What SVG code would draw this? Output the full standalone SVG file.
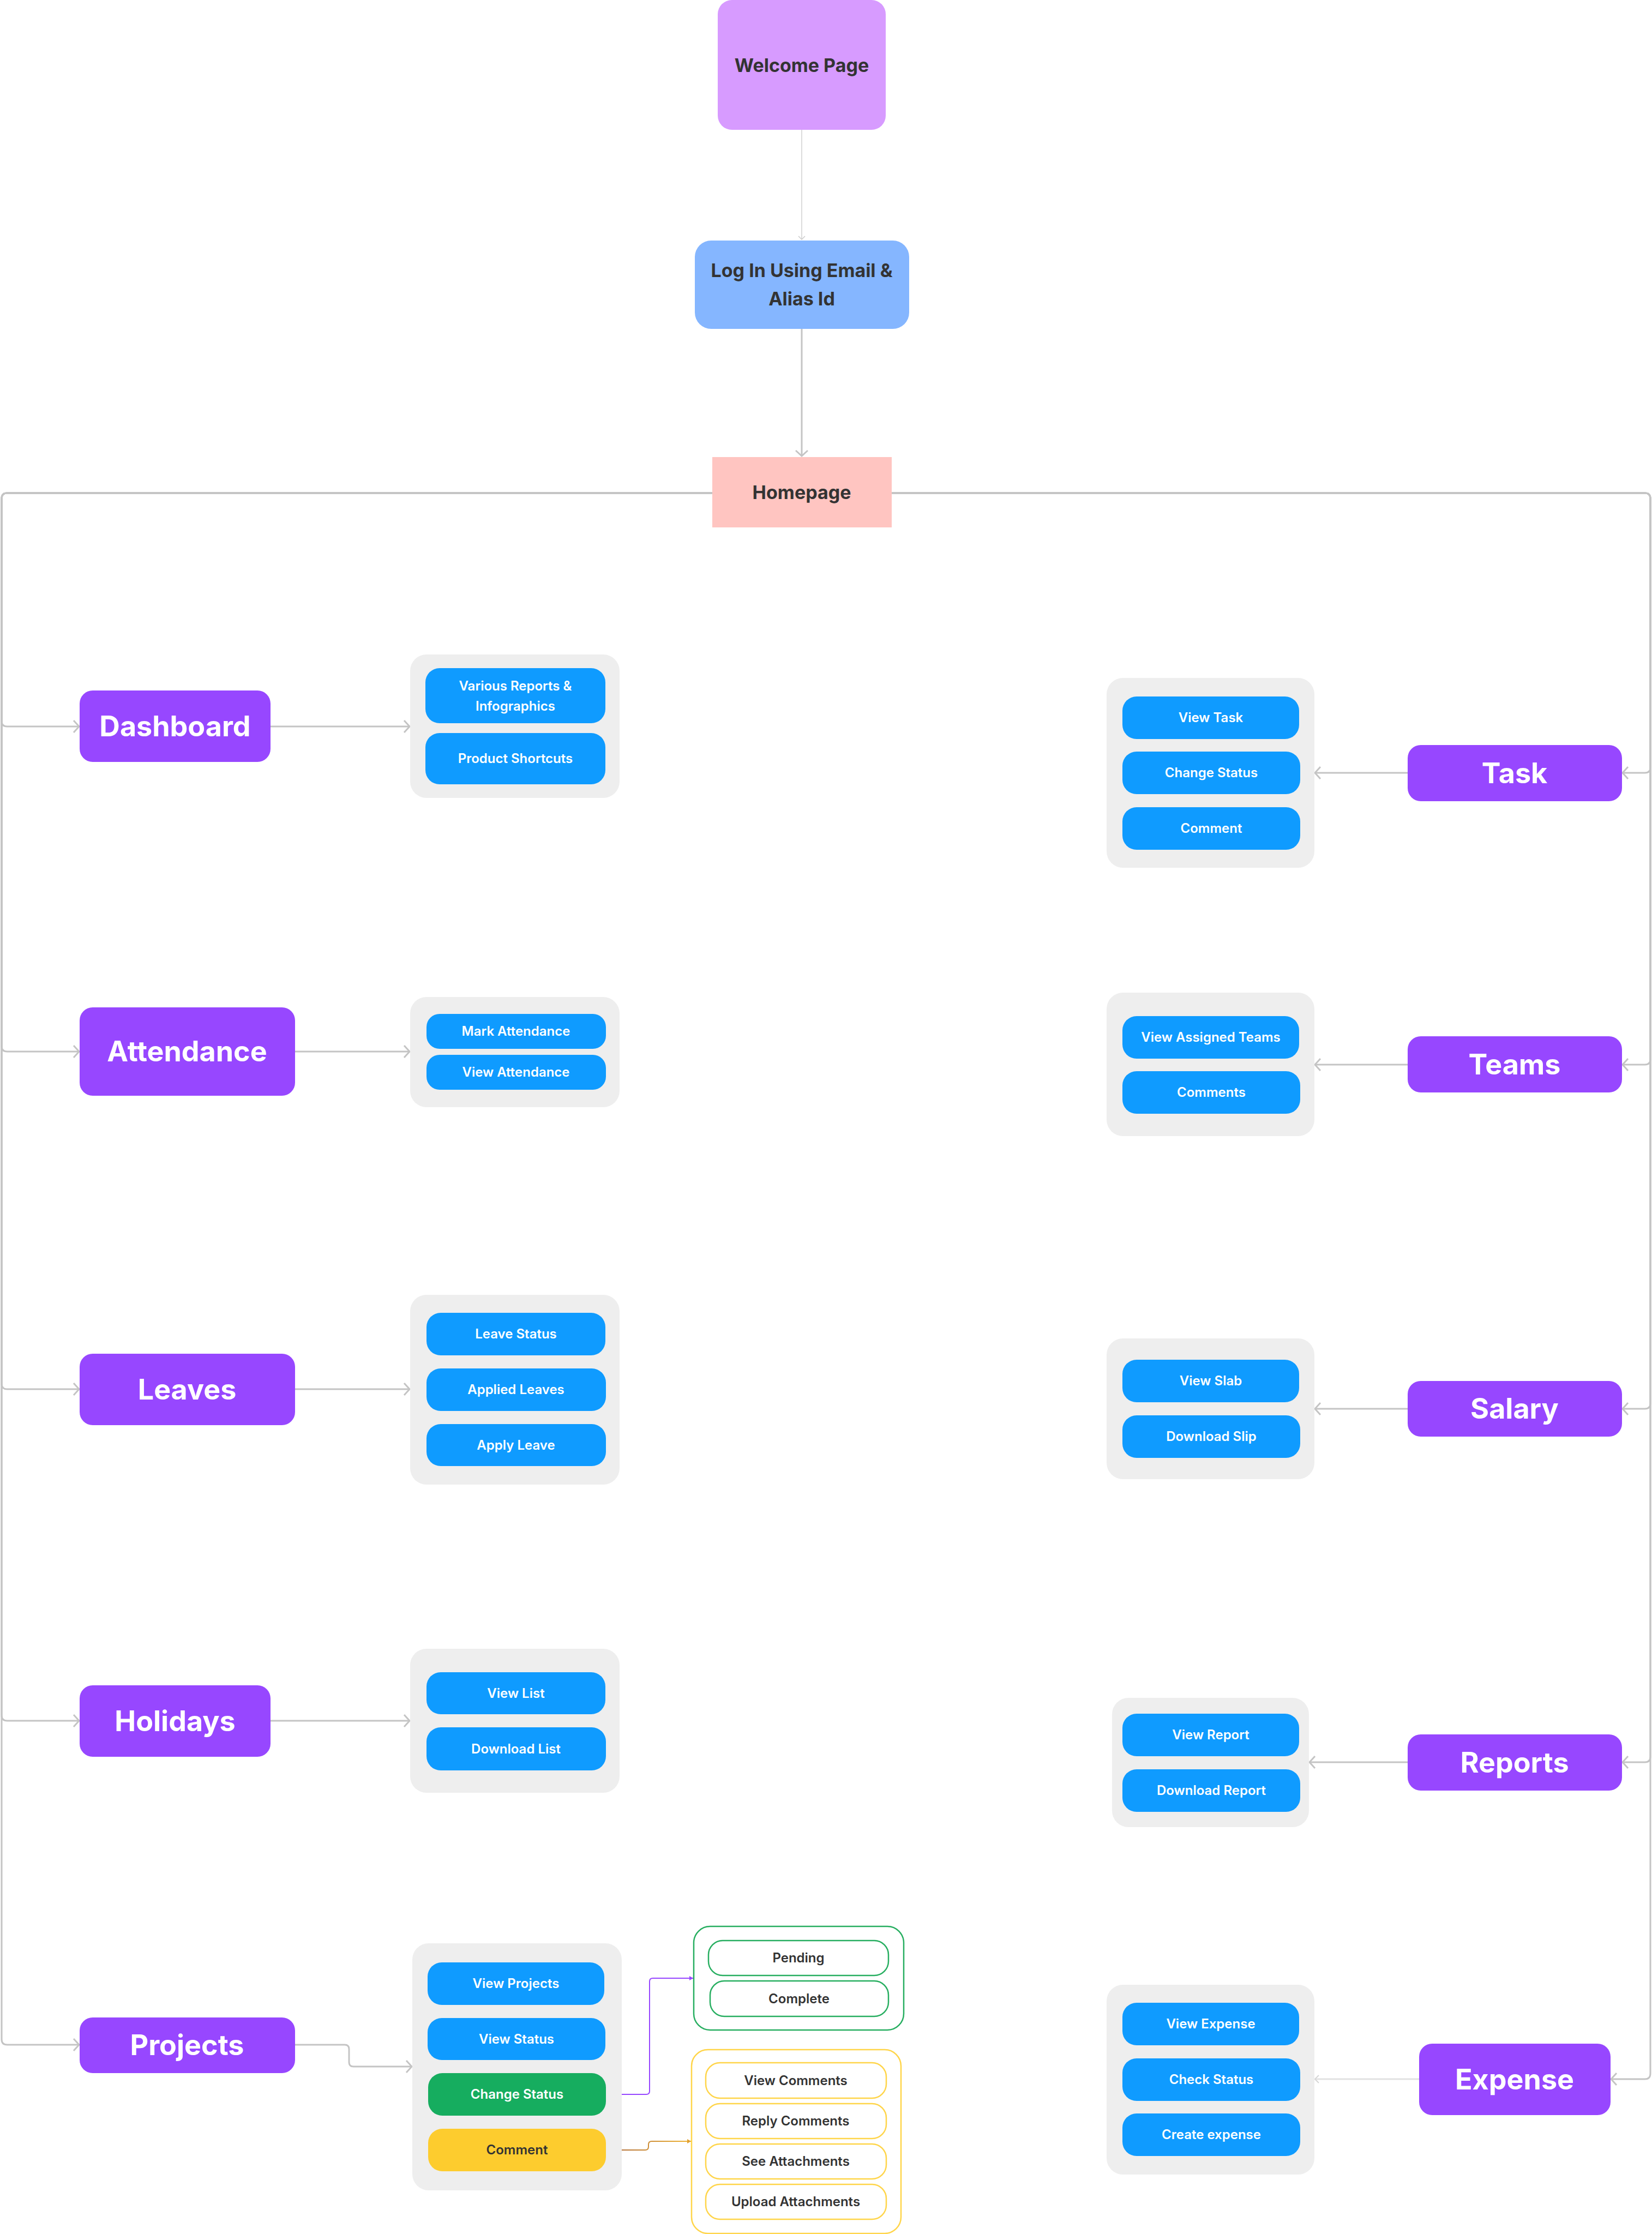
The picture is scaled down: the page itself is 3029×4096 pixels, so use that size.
<svg xmlns="http://www.w3.org/2000/svg" width="3029" height="4096" viewBox="0 0 3029 4096">
<style>
text{font-family:Inter,"Liberation Sans",Arial,sans-serif;text-anchor:middle}
.top{font-size:34px;font-weight:700;fill:#333333}
.main{fill:#9747FF}
.mt{font-size:52px;font-weight:700;fill:#ffffff}
.grp{fill:#EEEEEE}
.it{fill:#0F9BFF}
.itt{font-size:24px;font-weight:600;fill:#ffffff}
.dt{font-size:24px;font-weight:600;fill:#333333}
.gpill{fill:#ffffff;stroke:#27AE60;stroke-width:2.5}
.ypill{fill:#ffffff;stroke:#FFD54A;stroke-width:2.5}
.con{fill:none;stroke:#C4C4C4;stroke-width:3}
</style>
<defs>
<marker id="ah" markerUnits="userSpaceOnUse" markerWidth="30" markerHeight="30" viewBox="-15 -15 30 30" refX="0" refY="0" orient="auto">
<path d="M-10,-11 L0,0 L-10,11" fill="none" stroke="#C4C4C4" stroke-width="3"/>
</marker>
<marker id="ahs" markerUnits="userSpaceOnUse" markerWidth="20" markerHeight="20" viewBox="-10 -10 20 20" refX="0" refY="0" orient="auto">
<path d="M-6,-6 L0,0 L-6,6" fill="none" stroke="#CCCCCC" stroke-width="1.5"/>
</marker>
<marker id="ahl" markerUnits="userSpaceOnUse" markerWidth="20" markerHeight="20" viewBox="-10 -10 20 20" refX="0" refY="0" orient="auto">
<path d="M-7,-7 L0,0 L-7,7" fill="none" stroke="#D6D6D6" stroke-width="2"/>
</marker>
<marker id="ahp" markerUnits="userSpaceOnUse" markerWidth="16" markerHeight="16" viewBox="-8 -8 16 16" refX="0" refY="0" orient="auto">
<path d="M-7,-4 L0,0 L-7,4 Z" fill="#9747FF"/>
</marker>
<marker id="aho" markerUnits="userSpaceOnUse" markerWidth="16" markerHeight="16" viewBox="-8 -8 16 16" refX="0" refY="0" orient="auto">
<path d="M-7,-4 L0,0 L-7,4 Z" fill="#E0A030"/>
</marker>
<linearGradient id="og" gradientUnits="userSpaceOnUse" x1="1110" y1="0" x2="1268" y2="0">
<stop offset="0" stop-color="#A8643A"/>
<stop offset="1" stop-color="#F2B733"/>
</linearGradient>
</defs>

<g id="connectors">
<path d="M1470,238 V439" fill="none" stroke="#D0D0D0" stroke-width="1.5" marker-end="url(#ahs)"/>
<path d="M1470,603 V836" class="con" marker-end="url(#ah)"/>
<path d="M1306,904 H13 Q3,904 3,914 V1322 Q3,1332 13,1332 H145" class="con" marker-end="url(#ah)"/>
<path d="M1306,904 H13 Q3,904 3,914 V1918 Q3,1928 13,1928 H145" class="con" marker-end="url(#ah)"/>
<path d="M1306,904 H13 Q3,904 3,914 V2537 Q3,2547 13,2547 H145" class="con" marker-end="url(#ah)"/>
<path d="M1306,904 H13 Q3,904 3,914 V3145 Q3,3155 13,3155 H145" class="con" marker-end="url(#ah)"/>
<path d="M1306,904 H13 Q3,904 3,914 V3739 Q3,3749 13,3749 H145" class="con" marker-end="url(#ah)"/>
<path d="M1635,904 H3016 Q3026,904 3026,914 V1407 Q3026,1417 3016,1417 H2975" class="con" marker-end="url(#ah)"/>
<path d="M1635,904 H3016 Q3026,904 3026,914 V1942 Q3026,1952 3016,1952 H2975" class="con" marker-end="url(#ah)"/>
<path d="M1635,904 H3016 Q3026,904 3026,914 V2573 Q3026,2583 3016,2583 H2975" class="con" marker-end="url(#ah)"/>
<path d="M1635,904 H3016 Q3026,904 3026,914 V3221 Q3026,3231 3016,3231 H2975" class="con" marker-end="url(#ah)"/>
<path d="M1635,904 H3016 Q3026,904 3026,914 V3802 Q3026,3812 3016,3812 H2954" class="con" marker-end="url(#ah)"/>
<path d="M496,1332 H751" class="con" marker-end="url(#ah)"/>
<path d="M541,1928 H751" class="con" marker-end="url(#ah)"/>
<path d="M541,2547 H751" class="con" marker-end="url(#ah)"/>
<path d="M496,3155 H751" class="con" marker-end="url(#ah)"/>
<path d="M541,3749 H632 Q640,3749 640,3757 V3781 Q640,3789 648,3789 H755" class="con" marker-end="url(#ah)"/>
<path d="M2581,1417 H2411" class="con" marker-end="url(#ah)"/>
<path d="M2581,1952 H2411" class="con" marker-end="url(#ah)"/>
<path d="M2581,2583 H2411" class="con" marker-end="url(#ah)"/>
<path d="M2581,3231 H2401" class="con" marker-end="url(#ah)"/>
<path d="M2602,3812 H2411" fill="none" stroke="#E2E2E2" stroke-width="3" marker-end="url(#ahl)"/>
<path d="M1111,3840 H1185 Q1191,3840 1191,3834 V3633 Q1191,3627 1197,3627 H1271" fill="none" stroke="#9747FF" stroke-width="2" marker-end="url(#ahp)"/>
<path d="M1111,3942 H1183 Q1189,3942 1189,3936 V3932 Q1189,3926 1195,3926 H1267" fill="none" stroke="url(#og)" stroke-width="2" marker-end="url(#aho)"/>
</g>

<g id="welcome">
<rect x="1316" y="0" width="308" height="238" rx="26" fill="#D79BFF"/>
<text x="1470" y="132" class="top">Welcome Page</text>
</g>
<g id="login">
<rect x="1274" y="441" width="393" height="162" rx="30" fill="#85B6FF"/>
<text x="1470" y="508" class="top">Log In Using Email &amp;</text>
<text x="1470" y="560" class="top">Alias Id</text>
</g>
<g id="homepage">
<rect x="1306" y="838" width="329" height="129" fill="#FFC5C1"/>
<text x="1470" y="915" class="top">Homepage</text>
</g>

<g id="dashboard">
<rect x="146" y="1266" width="350" height="131" rx="24" class="main"/>
<text x="321" y="1350" class="mt">Dashboard</text>
</g>
<g id="dashboard-items">
<rect x="752" y="1200" width="384" height="263" rx="30" class="grp"/>
<rect x="780" y="1225" width="330" height="101" rx="26" class="it"/>
<text x="945" y="1266" class="itt">Various Reports &amp;</text>
<text x="945" y="1303" class="itt">Infographics</text>
<rect x="780" y="1344" width="330" height="94" rx="26" class="it"/>
<text x="945" y="1399" class="itt">Product Shortcuts</text>
</g>

<g id="attendance">
<rect x="146" y="1847" width="395" height="162" rx="24" class="main"/>
<text x="343" y="1946" class="mt">Attendance</text>
</g>
<g id="attendance-items">
<rect x="752" y="1828" width="384" height="202" rx="30" class="grp"/>
<rect x="782" y="1859" width="329" height="64" rx="24" class="it"/>
<text x="946" y="1899" class="itt">Mark Attendance</text>
<rect x="782" y="1934" width="329" height="64" rx="24" class="it"/>
<text x="946" y="1974" class="itt">View Attendance</text>
</g>

<g id="leaves">
<rect x="146" y="2482" width="395" height="131" rx="24" class="main"/>
<text x="343" y="2566" class="mt">Leaves</text>
</g>
<g id="leaves-items">
<rect x="752" y="2374" width="384" height="348" rx="30" class="grp"/>
<rect x="782" y="2407" width="328" height="78" rx="26" class="it"/>
<text x="946" y="2454" class="itt">Leave Status</text>
<rect x="782" y="2509" width="329" height="78" rx="26" class="it"/>
<text x="946" y="2556" class="itt">Applied Leaves</text>
<rect x="782" y="2611" width="329" height="77" rx="26" class="it"/>
<text x="946" y="2658" class="itt">Apply Leave</text>
</g>

<g id="holidays">
<rect x="146" y="3090" width="350" height="131" rx="24" class="main"/>
<text x="321" y="3174" class="mt">Holidays</text>
</g>
<g id="holidays-items">
<rect x="752" y="3023" width="384" height="264" rx="30" class="grp"/>
<rect x="782" y="3066" width="328" height="77" rx="26" class="it"/>
<text x="946" y="3113" class="itt">View List</text>
<rect x="782" y="3167" width="329" height="79" rx="26" class="it"/>
<text x="946" y="3215" class="itt">Download List</text>
</g>

<g id="projects">
<rect x="146" y="3699" width="395" height="102" rx="24" class="main"/>
<text x="343" y="3768" class="mt">Projects</text>
</g>
<g id="projects-items">
<rect x="756" y="3563" width="384" height="453" rx="30" class="grp"/>
<rect x="784" y="3598" width="324" height="78" rx="26" class="it"/>
<text x="946" y="3645" class="itt">View Projects</text>
<rect x="784" y="3700" width="326" height="77" rx="26" class="it"/>
<text x="947" y="3747" class="itt">View Status</text>
<rect x="785" y="3801" width="326" height="78" rx="26" fill="#16AD5F"/>
<text x="948" y="3848" class="itt">Change Status</text>
<rect x="785" y="3903" width="326" height="78" rx="26" fill="#FDCC2E"/>
<text x="948" y="3950" class="dt">Comment</text>
</g>
<g id="status-options">
<rect x="1272" y="3532" width="385" height="190" rx="30" fill="#ffffff" stroke="#27AE60" stroke-width="2.5"/>
<rect x="1299" y="3558" width="330" height="64" rx="26" class="gpill"/>
<text x="1464" y="3598" class="dt">Pending</text>
<rect x="1302" y="3632" width="327" height="65" rx="26" class="gpill"/>
<text x="1465" y="3673" class="dt">Complete</text>
</g>
<g id="comment-options">
<rect x="1268" y="3758" width="384" height="337" rx="30" fill="#ffffff" stroke="#FFD54A" stroke-width="2.5"/>
<rect x="1294" y="3782" width="331" height="65" rx="26" class="ypill"/>
<text x="1459" y="3823" class="dt">View Comments</text>
<rect x="1294" y="3857" width="331" height="64" rx="26" class="ypill"/>
<text x="1459" y="3897" class="dt">Reply Comments</text>
<rect x="1294" y="3931" width="331" height="64" rx="26" class="ypill"/>
<text x="1459" y="3971" class="dt">See Attachments</text>
<rect x="1294" y="4005" width="331" height="64" rx="26" class="ypill"/>
<text x="1459" y="4045" class="dt">Upload Attachments</text>
</g>

<g id="task">
<rect x="2581" y="1366" width="393" height="103" rx="24" class="main"/>
<text x="2777" y="1436" class="mt">Task</text>
</g>
<g id="task-items">
<rect x="2029" y="1243" width="381" height="348" rx="30" class="grp"/>
<rect x="2058" y="1277" width="324" height="78" rx="26" class="it"/>
<text x="2220" y="1324" class="itt">View Task</text>
<rect x="2058" y="1378" width="326" height="78" rx="26" class="it"/>
<text x="2221" y="1425" class="itt">Change Status</text>
<rect x="2058" y="1480" width="326" height="78" rx="26" class="it"/>
<text x="2221" y="1527" class="itt">Comment</text>
</g>

<g id="teams">
<rect x="2581" y="1900" width="393" height="103" rx="24" class="main"/>
<text x="2777" y="1970" class="mt">Teams</text>
</g>
<g id="teams-items">
<rect x="2029" y="1820" width="381" height="263" rx="30" class="grp"/>
<rect x="2058" y="1863" width="324" height="78" rx="26" class="it"/>
<text x="2220" y="1910" class="itt">View Assigned Teams</text>
<rect x="2058" y="1964" width="326" height="78" rx="26" class="it"/>
<text x="2221" y="2011" class="itt">Comments</text>
</g>

<g id="salary">
<rect x="2581" y="2532" width="393" height="102" rx="24" class="main"/>
<text x="2777" y="2601" class="mt">Salary</text>
</g>
<g id="salary-items">
<rect x="2029" y="2454" width="381" height="258" rx="30" class="grp"/>
<rect x="2058" y="2493" width="324" height="78" rx="26" class="it"/>
<text x="2220" y="2540" class="itt">View Slab</text>
<rect x="2058" y="2595" width="326" height="78" rx="26" class="it"/>
<text x="2221" y="2642" class="itt">Download Slip</text>
</g>

<g id="reports">
<rect x="2581" y="3180" width="393" height="103" rx="24" class="main"/>
<text x="2777" y="3250" class="mt">Reports</text>
</g>
<g id="reports-items">
<rect x="2039" y="3113" width="361" height="237" rx="30" class="grp"/>
<rect x="2058" y="3142" width="324" height="78" rx="26" class="it"/>
<text x="2220" y="3189" class="itt">View Report</text>
<rect x="2058" y="3244" width="326" height="78" rx="26" class="it"/>
<text x="2221" y="3291" class="itt">Download Report</text>
</g>

<g id="expense">
<rect x="2602" y="3747" width="351" height="131" rx="24" class="main"/>
<text x="2777" y="3831" class="mt">Expense</text>
</g>
<g id="expense-items">
<rect x="2029" y="3639" width="381" height="348" rx="30" class="grp"/>
<rect x="2058" y="3672" width="324" height="78" rx="26" class="it"/>
<text x="2220" y="3719" class="itt">View Expense</text>
<rect x="2058" y="3774" width="326" height="78" rx="26" class="it"/>
<text x="2221" y="3821" class="itt">Check Status</text>
<rect x="2058" y="3875" width="326" height="78" rx="26" class="it"/>
<text x="2221" y="3922" class="itt">Create expense</text>
</g>
</svg>
